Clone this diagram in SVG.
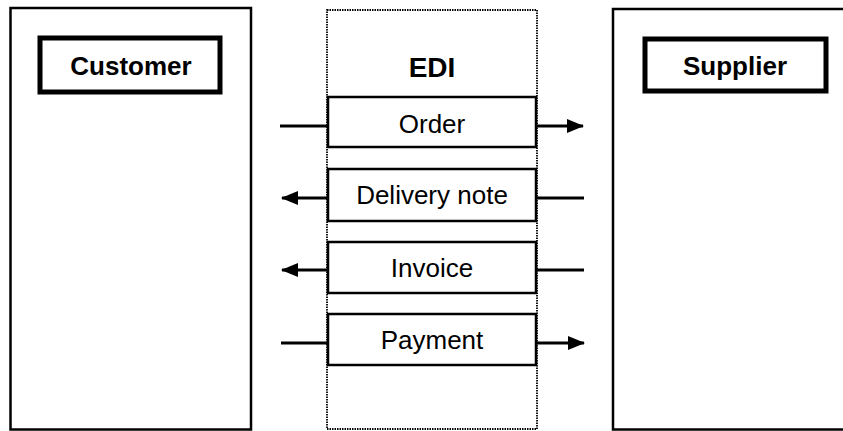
<svg xmlns="http://www.w3.org/2000/svg" width="843" height="431" viewBox="0 0 843 431">
  <style>
    .panel { fill: #ffffff; stroke: #000000; stroke-width: 2.5; }
    .title-box { fill: #ffffff; stroke: #000000; stroke-width: 5; }
    .edi { fill: #ffffff; stroke: #000000; stroke-width: 1.8; stroke-dasharray: 1.5 1; }
    .msg { fill: #ffffff; stroke: #000000; stroke-width: 2.5; }
    .title { font-family: "Liberation Sans", Arial, sans-serif; font-weight: bold; font-size: 26px; fill: #000000; text-anchor: middle; }
    .label { font-family: "Liberation Sans", Arial, sans-serif; font-size: 26px; fill: #000000; text-anchor: middle; }
    .conn { stroke: #000000; stroke-width: 3; fill: none; }
  </style>
  <defs>
    <marker id="head" viewBox="0 0 17 14" refX="16" refY="7" markerWidth="17" markerHeight="14" markerUnits="userSpaceOnUse" orient="auto">
      <path d="M0,0 L17,7 L0,14 Z" fill="#000000"/>
    </marker>
  </defs>

  <rect width="843" height="431" fill="#ffffff"/>

  <g id="customer">
    <rect class="panel" x="10.5" y="8" width="240.5" height="421.5"/>
    <rect class="title-box" x="40" y="38" width="180" height="54"/>
    <text class="title" x="131" y="75">Customer</text>
  </g>

  <g id="supplier">
    <rect class="panel" x="613" y="9" width="240" height="420.5"/>
    <rect class="title-box" x="645" y="39" width="181" height="52"/>
    <text class="title" x="735" y="75">Supplier</text>
  </g>

  <g id="edi">
    <rect class="edi" x="327" y="10" width="210" height="419"/>
    <text class="title" x="432" y="77" style="font-size:28px">EDI</text>
  </g>

  <g id="order">
    <rect class="msg" x="328" y="97" width="208" height="50"/>
    <text class="label" x="432" y="133">Order</text>
  </g>

  <g id="delivery-note">
    <rect class="msg" x="328" y="169" width="208" height="52"/>
    <text class="label" x="432" y="204">Delivery note</text>
  </g>

  <g id="invoice">
    <rect class="msg" x="328" y="242" width="208" height="51"/>
    <text class="label" x="432" y="277">Invoice</text>
  </g>

  <g id="payment">
    <rect class="msg" x="328" y="314" width="208" height="51"/>
    <text class="label" x="432" y="349">Payment</text>
  </g>

  <g id="connectors">
    <!-- Order: customer to supplier -->
    <line class="conn" x1="280" y1="126" x2="328" y2="126"/>
    <line class="conn" x1="536" y1="126" x2="583" y2="126" marker-end="url(#head)"/>
    <!-- Delivery note: supplier to customer -->
    <line class="conn" x1="584" y1="198" x2="536" y2="198"/>
    <line class="conn" x1="328" y1="198" x2="282" y2="198" marker-end="url(#head)"/>
    <!-- Invoice: supplier to customer -->
    <line class="conn" x1="584" y1="270" x2="536" y2="270"/>
    <line class="conn" x1="328" y1="270" x2="282" y2="270" marker-end="url(#head)"/>
    <!-- Payment: customer to supplier -->
    <line class="conn" x1="281" y1="343" x2="328" y2="343"/>
    <line class="conn" x1="536" y1="343" x2="584" y2="343" marker-end="url(#head)"/>
  </g>
</svg>
